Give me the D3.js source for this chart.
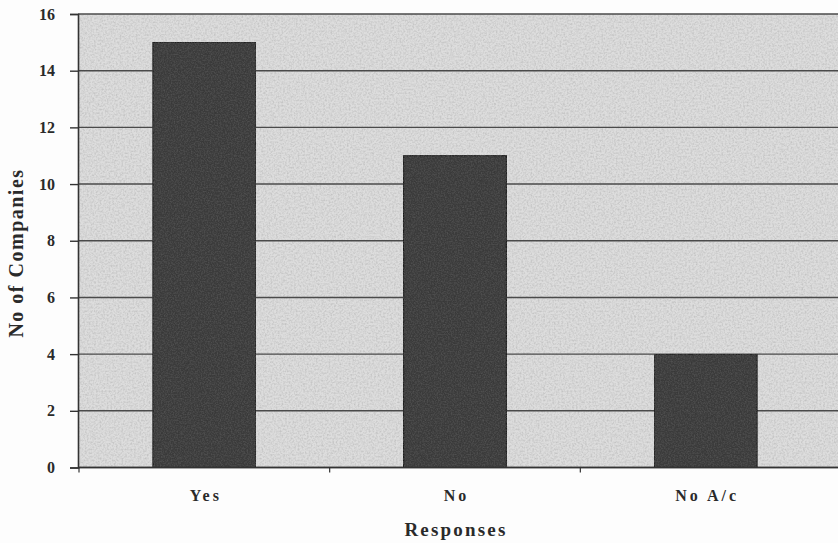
<!DOCTYPE html>
<html>
<head>
<meta charset="utf-8">
<script src="https://cdn.jsdelivr.net/npm/d3@7"></script>
<style>
  html, body { margin: 0; padding: 0; background: #fdfdfd; }
  svg { display: block; }
  text { font-family: "Liberation Serif", "Times New Roman", serif; font-weight: bold; fill: #2a2a2a; }
</style>
</head>
<body>
<svg id="chart" width="838" height="543"></svg>
<script>
// Survey responses: number of companies per answer
const categories = ["Yes", "No", "No A/c"];
const companies = [15, 11, 4];
const yTicks = [0, 2, 4, 6, 8, 10, 12, 14, 16];

const plot = { left: 78, right: 838, top: 14, bottom: 467.5 };

const svg = d3.select("#chart");
const defs = svg.append("defs");

// Speckled grey fill for the plot area
const grain = defs.append("filter").attr("id", "grain")
  .attr("x", 0).attr("y", 0).attr("width", 1).attr("height", 1);
grain.append("feTurbulence").attr("type", "fractalNoise")
  .attr("baseFrequency", 0.55).attr("numOctaves", 2).attr("seed", 7).attr("result", "noise");
grain.append("feColorMatrix").attr("in", "noise").attr("type", "matrix")
  .attr("values", "0 0 0 0 0.5  0 0 0 0 0.5  0 0 0 0 0.5  0 0 0 -1.6 1.0")
  .attr("result", "speck");
grain.append("feComposite").attr("in", "speck").attr("in2", "SourceGraphic").attr("operator", "in").attr("result", "speckIn");
grain.append("feMerge").call(m => {
  m.append("feMergeNode").attr("in", "SourceGraphic");
  m.append("feMergeNode").attr("in", "speckIn");
});

// Slight grain for the dark bars
const barGrain = defs.append("filter").attr("id", "barGrain")
  .attr("x", 0).attr("y", 0).attr("width", 1).attr("height", 1);
barGrain.append("feTurbulence").attr("type", "fractalNoise")
  .attr("baseFrequency", 0.7).attr("numOctaves", 2).attr("seed", 3).attr("result", "noise");
barGrain.append("feColorMatrix").attr("in", "noise").attr("type", "matrix")
  .attr("values", "0 0 0 0 0.1  0 0 0 0 0.1  0 0 0 0 0.1  0 0 0 -1.4 0.9")
  .attr("result", "speck");
barGrain.append("feComposite").attr("in", "speck").attr("in2", "SourceGraphic").attr("operator", "in").attr("result", "speckIn");
barGrain.append("feMerge").call(m => {
  m.append("feMergeNode").attr("in", "SourceGraphic");
  m.append("feMergeNode").attr("in", "speckIn");
});

const x = d3.scaleBand()
  .domain(categories)
  .range([79, 831])
  .paddingInner(0.59)
  .paddingOuter(0.295);

const y = d3.scaleLinear()
  .domain([0, 16])
  .range([plot.bottom, plot.top]);

// Plot background
svg.append("rect")
  .attr("x", plot.left).attr("y", plot.top)
  .attr("width", plot.right - plot.left).attr("height", plot.bottom - plot.top)
  .attr("fill", "#dddddd")
  .attr("filter", "url(#grain)");

// Horizontal gridlines
svg.append("g")
  .selectAll("line")
  .data(yTicks)
  .join("line")
  .attr("x1", plot.left).attr("x2", plot.right)
  .attr("y1", d => y(d)).attr("y2", d => y(d))
  .attr("stroke", "#4a4a4a")
  .attr("stroke-width", 1.4);

// Bars
svg.append("g")
  .selectAll("rect")
  .data(companies)
  .join("rect")
  .attr("x", (d, i) => x(categories[i]))
  .attr("y", d => y(d))
  .attr("width", x.bandwidth())
  .attr("height", d => y(0) - y(d))
  .attr("fill", "#3b3b3b")
  .attr("stroke", "#1e1e1e")
  .attr("stroke-width", 1.2)
  .attr("filter", "url(#barGrain)");

// Y axis
const yAxis = d3.axisLeft(y)
  .tickValues(yTicks)
  .tickSize(8)
  .tickPadding(15)
  .tickFormat(d3.format("d"));
const gy = svg.append("g")
  .attr("transform", `translate(${plot.left},0)`)
  .call(yAxis);
gy.select(".domain").attr("stroke", "#333").attr("stroke-width", 1.6);
gy.selectAll(".tick line").attr("stroke", "#333").attr("stroke-width", 1.4);
gy.selectAll(".tick text")
  .attr("font-size", 16)
  .attr("font-family", "Liberation Serif, serif")
  .attr("font-weight", "bold")
  .attr("fill", "#2a2a2a");

// X axis: line at zero, small ticks at category boundaries
const boundaries = [x.range()[0], ...categories.slice(1).map(c => x(c) - x.step() * x.paddingInner() / 2)];
const gx = svg.append("g");
gx.append("line")
  .attr("x1", plot.left).attr("x2", plot.right)
  .attr("y1", y(0)).attr("y2", y(0))
  .attr("stroke", "#333").attr("stroke-width", 1.6);
gx.selectAll("line.tick")
  .data(boundaries)
  .join("line")
  .attr("class", "tick")
  .attr("x1", d => d).attr("x2", d => d)
  .attr("y1", y(0)).attr("y2", y(0) + 5)
  .attr("stroke", "#333").attr("stroke-width", 1.2);
gx.selectAll("text")
  .data(categories)
  .join("text")
  .attr("x", d => x(d) + x.bandwidth() / 2 + 1.5)
  .attr("y", 501)
  .attr("text-anchor", "middle")
  .attr("font-size", 16)
  .attr("letter-spacing", 3)
  .attr("xml:space", "preserve")
  .style("white-space", "pre")
  .text(d => d);

// Axis titles
svg.append("text")
  .attr("x", x(categories[1]) + x.bandwidth() / 2 + 1)
  .attr("y", 536)
  .attr("text-anchor", "middle")
  .attr("font-size", 19)
  .attr("letter-spacing", 2.2)
  .text("Responses");

svg.append("text")
  .attr("transform", `translate(23,${253}) rotate(-90)`)
  .attr("text-anchor", "middle")
  .attr("font-size", 20)
  .attr("letter-spacing", 1.5)
  .text("No of Companies");
</script>
</body>
</html>
